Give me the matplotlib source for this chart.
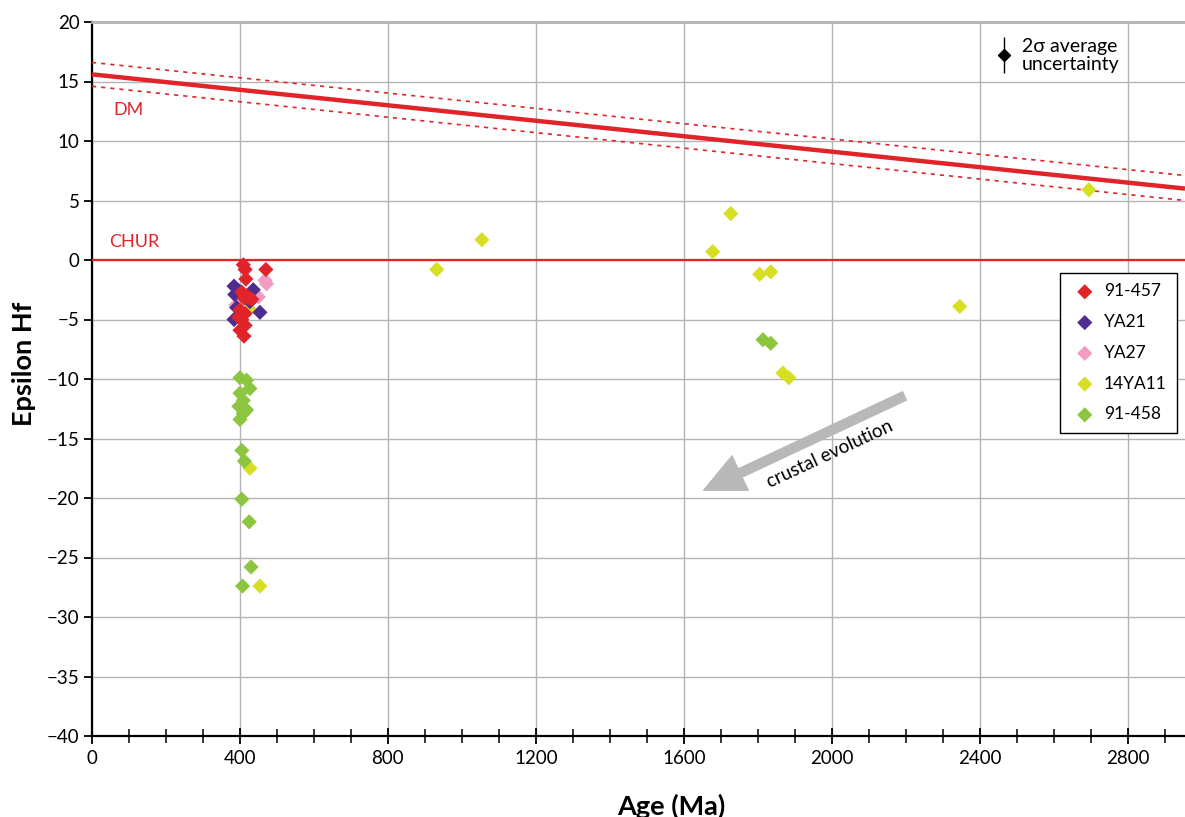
import matplotlib
matplotlib.use("Agg")
import matplotlib.pyplot as plt
from matplotlib.patches import FancyArrowPatch
from matplotlib.ticker import MultipleLocator

plt.rcParams['font.family'] = ['Lato', 'DejaVu Sans']

# --- sample data: U-Pb age (Ma) and initial epsilon Hf ---
age_91_457 = [409, 414, 470, 416, 405, 423, 411, 400, 414, 405, 414, 400, 411, 396, 418, 432]
eps_91_457 = [-0.4, -0.8, -0.8, -1.6, -2.7, -3.2, -3.2, -4.2, -4.5, -5.0, -5.5, -5.9, -6.4, -4.8, -3.0, -3.3]

age_ya21 = [384, 436, 454, 386, 384, 391, 427, 397]
eps_ya21 = [-2.2, -2.5, -4.4, -2.9, -5.0, -4.0, -3.5, -2.6]

age_ya27 = [468, 472, 450, 389]
eps_ya27 = [-1.7, -2.0, -3.1, -3.8]

age_14ya11 = [932, 1054, 1678, 1727, 1805, 1835, 1868, 1884, 2346, 2695, 427, 454, 425]
eps_14ya11 = [-0.8, 1.7, 0.7, 3.9, -1.2, -1.0, -9.5, -9.9, -3.9, 5.9, -17.5, -27.4, -4.1]

age_91_458 = [400, 418, 427, 400, 409, 397, 418, 409, 400, 405, 412, 405, 425, 430, 407, 1814, 1835]
eps_91_458 = [-9.9, -10.1, -10.8, -11.2, -11.8, -12.3, -12.6, -12.9, -13.4, -16.0, -16.9, -20.1, -22.0, -25.8, -27.4, -6.7, -7.0]

# Reference evolution lines
dm_age = [0, 2955]
dm_eps = [15.6, 6.0]
dm_upper = [16.6, 7.1]
dm_lower = [14.6, 5.0]
chur_eps = [0, 0]

# 2-sigma average uncertainty symbol
unc_age = [2465]
unc_eps = [17.2]
unc_err = [1.5]

samples = [
    ("14YA11", age_14ya11, eps_14ya11, "#d7df23"),
    ("91-458", age_91_458, eps_91_458, "#8cc540"),
    ("YA27", age_ya27, eps_ya27, "#f39cc3"),
    ("YA21", age_ya21, eps_ya21, "#4f2d8f"),
    ("91-457", age_91_457, eps_91_457, "#e1242a"),
]
legend_order = ["91-457", "YA21", "YA27", "14YA11", "91-458"]

fig = plt.figure(figsize=(11.85, 8.17), dpi=100)
ax = fig.add_axes([92 / 1185, 1 - 736 / 817, 1 - 92 / 1185, (736 - 22) / 817])

ax.set_xlim(0, 2955)
ax.set_ylim(-40, 20)

# grid
ax.xaxis.set_major_locator(MultipleLocator(400))
ax.xaxis.set_minor_locator(MultipleLocator(100))
ax.yaxis.set_major_locator(MultipleLocator(5))
ax.grid(True, which='major', color='#b3b3b3', linewidth=1.0, zorder=0)
ax.set_axisbelow(True)

ax.spines['right'].set_visible(False)
ax.spines['top'].set_color('#b3b3b3')
ax.spines['top'].set_linewidth(2.0)
ax.spines['left'].set_linewidth(1.6)
ax.spines['bottom'].set_linewidth(1.6)

ax.tick_params(axis='x', which='major', direction='inout', length=12, width=1.3,
               labelsize=13.5, pad=4)
ax.tick_params(axis='x', which='minor', direction='inout', length=10, width=1.1)
ax.tick_params(axis='y', which='major', direction='out', length=6, width=1.3,
               labelsize=13.5, pad=3)

ax.set_yticks(range(-40, 21, 5))
ax.set_yticklabels([str(v).replace('-', '\u2212') for v in range(-40, 21, 5)])

# DM and CHUR reference lines
red = "#e1242a"
ax.plot(dm_age, dm_eps, color=red, linewidth=3.2, zorder=3, solid_capstyle='butt')
ax.plot(dm_age, dm_upper, color=red, linewidth=1.2, linestyle=(0, (2.5, 3)), zorder=3)
ax.plot(dm_age, dm_lower, color=red, linewidth=1.2, linestyle=(0, (2.5, 3)), zorder=3)
ax.plot(dm_age, chur_eps, color=red, linewidth=1.6, zorder=3)
ax.text(100, 12.6, "DM", color=red, fontsize=13, ha='center', va='center')
ax.text(113, 1.5, "CHUR", color=red, fontsize=13, ha='center', va='center')

# samples
handles = {}
for name, ages, eps, col in samples:
    h = ax.scatter(ages, eps, marker='D', s=60, color=col, edgecolors='none',
                   zorder=4, label=name)
    handles[name] = h

leg = ax.legend([handles[n] for n in legend_order], legend_order,
                loc='upper right', bbox_to_anchor=(0.9927, 0.6485),
                fontsize=12.5, frameon=True, fancybox=False, edgecolor='black',
                framealpha=1, labelspacing=0.85, handletextpad=0.3,
                handlelength=1.6, borderpad=0.6, borderaxespad=0)
leg.get_frame().set_linewidth(1.0)

# uncertainty symbol
ax.errorbar(unc_age, unc_eps, yerr=unc_err, fmt='D', color='black', markersize=6,
            elinewidth=1.0, capsize=0, zorder=5)
ax.text(2513, 17.2, "2\u03c3 average\nuncertainty", fontsize=14, ha='left',
        va='center', linespacing=1.1)

# crustal evolution arrow
arrow = FancyArrowPatch((2205, -11.3), (1643, -19.5),
                        arrowstyle='simple,head_length=1.7,head_width=1.6,tail_width=0.42',
                        mutation_scale=18, color='#b8b8b8', linewidth=0, zorder=2)
ax.add_patch(arrow)
ax.text(1995, -16.3, "crustal evolution", fontsize=13.5, rotation=25,
        rotation_mode='anchor', ha='center', va='center')

ax.set_xlabel("Age (Ma)", fontsize=19.5, fontweight='bold')
ax.set_ylabel("Epsilon Hf", fontsize=19.5, fontweight='bold')
ax.xaxis.set_label_coords(0.53, -0.081)
ax.yaxis.set_label_coords(-0.051, 0.521)

fig.savefig("out.png", dpi=100)
